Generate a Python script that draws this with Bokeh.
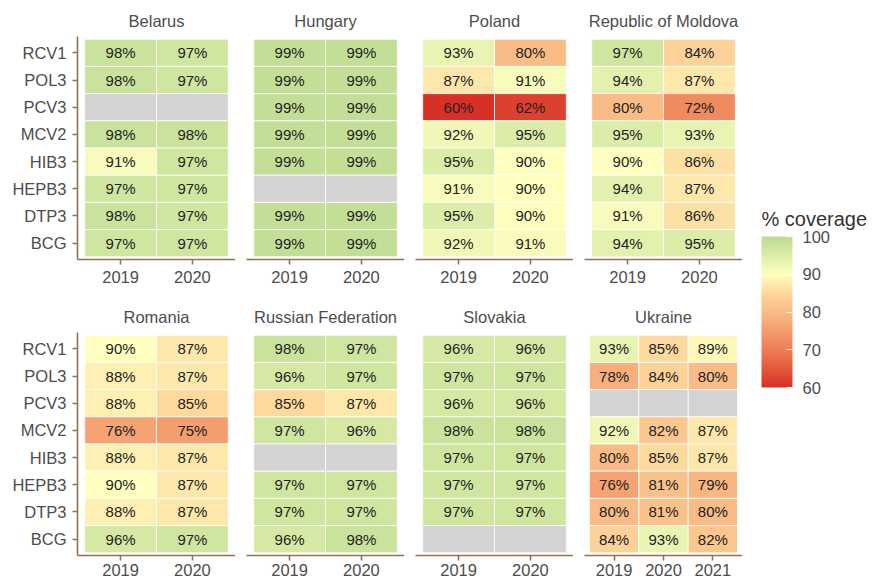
import numpy as np
from bokeh.plotting import figure
from bokeh.models import (FactorRange, ColumnDataSource, LinearColorMapper, ColorBar,
                          FixedTicker, Range1d)
from bokeh.layouts import row, column
from bokeh.transform import transform
from bokeh.core.properties import value
from bokeh.embed import file_html
from bokeh.resources import INLINE

# ---------------- data ----------------
vaccines = ["RCV1", "POL3", "PCV3", "MCV2", "HIB3", "HEPB3", "DTP3", "BCG"]
years_2 = ["2019", "2020"]
years_3 = ["2019", "2020", "2021"]
NA = None

belarus = {"2019": [98, 98, NA, 98, 91, 97, 98, 97],
           "2020": [97, 97, NA, 98, 97, 97, 97, 97]}
hungary = {"2019": [99, 99, 99, 99, 99, NA, 99, 99],
           "2020": [99, 99, 99, 99, 99, NA, 99, 99]}
poland = {"2019": [93, 87, 60, 92, 95, 91, 95, 92],
          "2020": [80, 91, 62, 95, 90, 90, 90, 91]}
moldova = {"2019": [97, 94, 80, 95, 90, 94, 91, 94],
           "2020": [84, 87, 72, 93, 86, 87, 86, 95]}
romania = {"2019": [90, 88, 88, 76, 88, 90, 88, 96],
           "2020": [87, 87, 85, 75, 87, 87, 87, 97]}
russia = {"2019": [98, 96, 85, 97, NA, 97, 97, 96],
          "2020": [97, 97, 87, 96, NA, 97, 97, 98]}
slovakia = {"2019": [96, 97, 96, 98, 97, 97, 97, NA],
            "2020": [96, 97, 96, 98, 97, 97, 97, NA]}
ukraine = {"2019": [93, 78, NA, 92, 80, 76, 80, 84],
           "2020": [85, 84, NA, 82, 85, 81, 81, 93],
           "2021": [89, 80, NA, 87, 87, 79, 80, 82]}

top_row = [("Belarus", years_2, belarus), ("Hungary", years_2, hungary),
           ("Poland", years_2, poland), ("Republic of Moldova", years_2, moldova)]
bottom_row = [("Romania", years_2, romania), ("Russian Federation", years_2, russia),
              ("Slovakia", years_2, slovakia), ("Ukraine", years_3, ukraine)]

legend_ticks = [60, 70, 80, 90, 100]

# ---------------- style ----------------
FONT = "Liberation Sans"
AXIS_COL = "#8B7355"
TXT_COL = "#4d4d4d"
CELL_TXT = "#222222"
NA_COL = "#d3d3d3"

stops = [60, 65, 70, 80, 85, 90, 95, 100]
stop_colors = ["#d73027", "#e35a3a", "#ee7e55", "#f9bc87", "#fdd89c",
               "#ffffbf", "#dcedaa", "#bddc93"]


def hex2rgb(h):
    h = h.lstrip("#")
    return [int(h[i:i + 2], 16) for i in (0, 2, 4)]


rgb = np.array([hex2rgb(c) for c in stop_colors], dtype=float)
grid_vals = np.linspace(60, 100, 256)
palette = []
for g in grid_vals:
    r = np.interp(g, stops, rgb[:, 0])
    gg = np.interp(g, stops, rgb[:, 1])
    b = np.interp(g, stops, rgb[:, 2])
    palette.append("#%02x%02x%02x" % (int(round(r)), int(round(gg)), int(round(b))))

mapper = LinearColorMapper(palette=palette, low=60, high=100, nan_color=NA_COL)

FRAME_W = 158
FRAME_H = 223


def make_panel(name, years, data, first_col, top_border, bottom_border, x_standoff):
    xs, ys, vals = [], [], []
    lx, ly, lt = [], [], []
    for yr in years:
        for vac, v in zip(vaccines, data[yr]):
            xs.append(yr)
            ys.append(vac)
            vals.append(np.nan if v is None else float(v))
            if v is not None:
                lx.append(yr)
                ly.append(vac)
                lt.append(f"{v}%")
    src = ColumnDataSource(dict(year=xs, vaccine=ys, cov=vals))
    lab = ColumnDataSource(dict(year=lx, vaccine=ly, label=lt))

    p = figure(
        x_range=FactorRange(factors=years, range_padding=0.1, range_padding_units="absolute"),
        y_range=FactorRange(factors=vaccines[::-1], range_padding=0.1, range_padding_units="absolute"),
        frame_width=FRAME_W, frame_height=FRAME_H,
        min_border_left=77 if first_col else 11, min_border_right=0,
        min_border_top=top_border, min_border_bottom=bottom_border,
        y_axis_location="left" if first_col else None,
        output_backend="svg", toolbar_location=None, title=name,
    )
    p.rect(x="year", y="vaccine", width=1, height=1, source=src,
           fill_color=transform("cov", mapper), line_color="white", line_width=0.8)
    p.text(x="year", y="vaccine", text="label", source=lab,
           text_align="center", text_baseline="middle",
           text_font=value(FONT), text_font_size="15px", text_color=CELL_TXT)

    p.grid.visible = False
    p.outline_line_color = None
    p.background_fill_color = "white"
    p.border_fill_color = "white"

    p.title.align = "center"
    p.title.text_font = FONT
    p.title.text_font_size = "16.5px"
    p.title.text_font_style = "normal"
    p.title.text_color = TXT_COL
    p.title.standoff = 14

    for ax in p.axis:
        ax.axis_line_color = AXIS_COL
        ax.axis_line_width = 1.6
        ax.major_tick_line_color = AXIS_COL
        ax.major_tick_line_width = 1.6
        ax.major_tick_in = 0
        ax.major_tick_out = 5
        ax.minor_tick_line_color = None
        ax.major_label_text_font = FONT
        ax.major_label_text_font_size = "16.5px"
        ax.major_label_text_color = TXT_COL
    p.xaxis.major_label_standoff = x_standoff
    if first_col:
        p.yaxis.major_label_standoff = 6
    return p


top_figs = [make_panel(n, y, d, i == 0, 36, 37, 6) for i, (n, y, d) in enumerate(top_row)]
bot_figs = [make_panel(n, y, d, i == 0, 36, 27, 3) for i, (n, y, d) in enumerate(bottom_row)]

# ---------------- legend ----------------
leg = figure(frame_width=108, frame_height=170, min_border_left=19, min_border_right=0,
             min_border_top=236, min_border_bottom=0,
             x_range=Range1d(0, 1), y_range=Range1d(0, 1),
             x_axis_location=None, y_axis_location=None,
             title="% coverage",
             output_backend="svg", toolbar_location=None)
leg.grid.visible = False
leg.outline_line_color = None
leg.title.align = "left"
leg.title.text_font = FONT
leg.title.text_font_size = "20px"
leg.title.text_font_style = "normal"
leg.title.text_color = "#333333"
leg.title.standoff = 13

cb = ColorBar(
    color_mapper=mapper, orientation="vertical", location="top_left",
    width=31, height=151, padding=0, margin=0,
    ticker=FixedTicker(ticks=legend_ticks),
    major_label_text_font=FONT, major_label_text_font_size="16.5px",
    major_label_text_color=TXT_COL, label_standoff=10,
    major_tick_line_color="white", major_tick_line_width=1, major_tick_in=6, major_tick_out=0,
    minor_tick_line_color=None, bar_line_color=None, border_line_color=None,
    background_fill_alpha=0,
)
leg.add_layout(cb)

layout = row(column(row(*top_figs), row(*bot_figs)), leg)

open("out.html", "w").write(file_html(layout, INLINE))
